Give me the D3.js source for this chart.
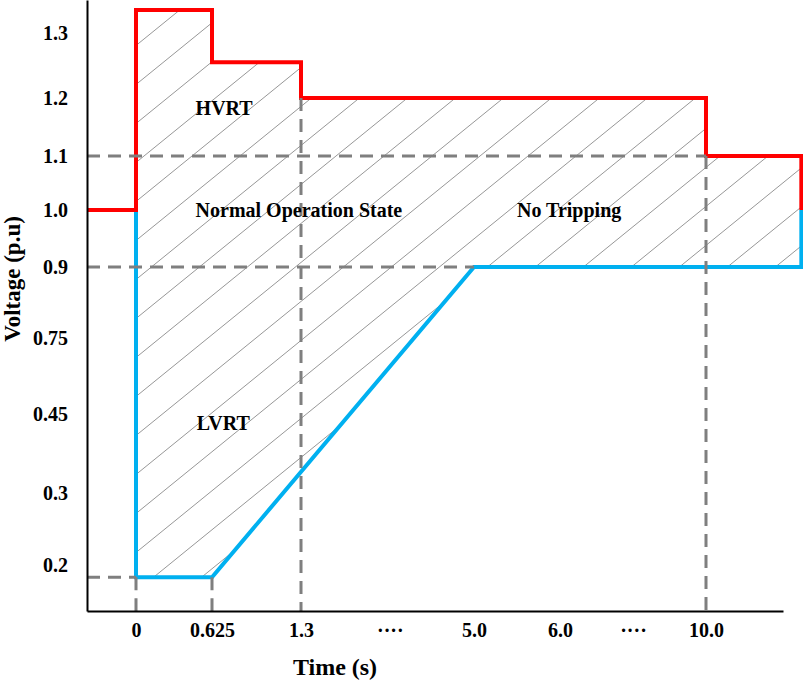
<!DOCTYPE html>
<html>
<head>
<meta charset="utf-8">
<script src="https://cdn.jsdelivr.net/npm/d3@7"></script>
<style>
body { margin: 0; background: #fff; }
text { font-family: 'Liberation Serif', 'Times New Roman', serif; font-weight: bold; fill: #000; }
</style>
</head>
<body>
<div id="mainDiv"></div>
<script>
'use strict';

// time axis (s) - the scale is not uniform, "····" marks a break
var timeTicks  = [0, 0.625, 1.3, 3.2, 5.0, 6.0, 8.0, 10.0];
var timeLabels = ['0', '0.625', '1.3', '····', '5.0', '6.0', '····', '10.0'];

// voltage axis (p.u)
var voltTicks  = [0.2, 0.3, 0.45, 0.75, 0.9, 1.0, 1.1, 1.2, 1.3];
var voltLabels = ['0.2', '0.3', '0.45', '0.75', '0.9', '1.0', '1.1', '1.2', '1.3'];

// upper boundary (HVRT)
var hvrtTime = [-0.4, 0, 0, 0.625, 0.625, 1.3, 1.3, 10, 10, 12.6, 12.6];
var hvrtVolt = [1.0, 1.0, 1.335, 1.335, 1.255, 1.255, 1.2, 1.2, 1.1, 1.1, 1.0];

// lower boundary (LVRT)
var lvrtTime = [0, 0, 0.625, 5.0, 12.6, 12.6];
var lvrtVolt = [1.0, 0.183, 0.183, 0.9, 0.9, 1.0];

// dashed guides, [t0, v0, t1, v1]
var guideLines = [
    [-0.4, 1.1,   10,    1.1],
    [-0.4, 0.9,   5.0,   0.9],
    [-0.4, 0.183, 0,     0.183],
    [0,    0.183, 0,     0.136],
    [0.625,0.183, 0.625, 0.136],
    [1.3,  1.2,   1.3,   0.136],
    [10,   1.1,   10,    0.136]
];

// region names and where they sit (t, v)
var regionNames = ['HVRT', 'Normal Operation State', 'No Tripping', 'LVRT'];
var regionTime  = [0.49, 0.49, 5.5, 0.5];
var regionVolt  = [1.17, 0.988, 0.988, 0.42];

var chart = {};

chart.W = 803;
chart.H = 684;

chart.makeScales = function()
{
    // piecewise scales, the picture is a sketch with uneven spacing
    chart.x = d3.scaleLinear()
        .domain([-0.4, 0, 0.625, 1.3, 5.0, 6.0, 10.0, 12.1])
        .range([87, 136, 212, 301, 474, 560, 706, 783]);

    chart.y = d3.scaleLinear()
        .domain([0.136, 0.2, 0.3, 0.45, 0.75, 0.9, 1.0, 1.1, 1.2, 1.3, 1.35])
        .range([611, 565, 493, 414, 338, 267, 210, 156, 98, 33, 0]);
}

chart.zip = function(ts, vs)
{
    var pts = [];
    for(var i=0; i<ts.length; i++)
    {
        pts.push([ts[i], vs[i]]);
    }
    return pts;
}

chart.run = function()
{
    chart.makeScales();

    var svg = d3.select('#mainDiv').append('svg')
        .attr('width', chart.W)
        .attr('height', chart.H);

    var pat = svg.append('defs').append('pattern')
        .attr('id', 'hatch')
        .attr('patternUnits', 'userSpaceOnUse')
        .attr('width', 48)
        .attr('height', 39);
    pat.append('path')
        .attr('d', 'M0,39L48,0M-12,9.75L12,-9.75M36,48.75L60,29.25')
        .attr('stroke', '#8a8a8a')
        .attr('stroke-width', 0.9);

    var line = d3.line()
        .x(function(d){ return chart.x(d[0]); })
        .y(function(d){ return chart.y(d[1]); });

    var upper = chart.zip(hvrtTime, hvrtVolt);
    var lower = chart.zip(lvrtTime, lvrtVolt);

    // hatched band between the two boundaries
    var band = upper.slice(1).concat(lower.slice().reverse());
    svg.append('path')
        .attr('d', line(band) + 'Z')
        .attr('fill', 'url(#hatch)')
        .attr('stroke', 'none');

    svg.append('path')
        .attr('d', line(lower))
        .attr('fill', 'none')
        .attr('stroke', '#00b0f0')
        .attr('stroke-width', 4);

    svg.append('path')
        .attr('d', line(upper))
        .attr('fill', 'none')
        .attr('stroke', '#ff0000')
        .attr('stroke-width', 4);

    svg.selectAll('line.guide')
        .data(guideLines)
        .enter()
        .append('line')
        .attr('class', 'guide')
        .attr('x1', function(d){ return chart.x(d[0]); })
        .attr('y1', function(d){ return chart.y(d[1]); })
        .attr('x2', function(d){ return chart.x(d[2]); })
        .attr('y2', function(d){ return chart.y(d[3]); })
        .attr('stroke', '#7f7f7f')
        .attr('stroke-width', 3)
        .attr('stroke-dasharray', '13,8');

    var xAxis = d3.axisBottom(chart.x)
        .tickValues(timeTicks)
        .tickFormat(function(d, i){ return timeLabels[i]; })
        .tickSize(0)
        .tickPadding(12);

    var yAxis = d3.axisLeft(chart.y)
        .tickValues(voltTicks)
        .tickFormat(function(d, i){ return voltLabels[i]; })
        .tickSize(0)
        .tickPadding(19);

    var gx = svg.append('g')
        .attr('transform', 'translate(0,' + chart.y(0.136) + ')')
        .call(xAxis);
    var gy = svg.append('g')
        .attr('transform', 'translate(' + chart.x(-0.4) + ',0)')
        .call(yAxis);

    [gx, gy].forEach(function(g){
        g.select('.domain').attr('stroke', '#000').attr('stroke-width', 2);
        g.selectAll('text')
            .style('font-family', "'Liberation Serif', 'Times New Roman', serif")
            .style('font-weight', 'bold')
            .style('font-size', '20px')
            .attr('fill', '#000');
    });

    svg.append('text')
        .attr('x', 335)
        .attr('y', 675)
        .attr('text-anchor', 'middle')
        .style('font-size', '24px')
        .text('Time (s)');

    svg.append('text')
        .attr('transform', 'translate(20,279) rotate(-90)')
        .attr('text-anchor', 'middle')
        .style('font-size', '23px')
        .text('Voltage (p.u)');

    svg.selectAll('text.region')
        .data(regionNames)
        .enter()
        .append('text')
        .attr('class', 'region')
        .attr('x', function(d, i){ return chart.x(regionTime[i]); })
        .attr('y', function(d, i){ return chart.y(regionVolt[i]); })
        .style('font-size', '20px')
        .text(function(d){ return d; });
}

window.chart = chart;
chart.run();
</script>
</body>
</html>
